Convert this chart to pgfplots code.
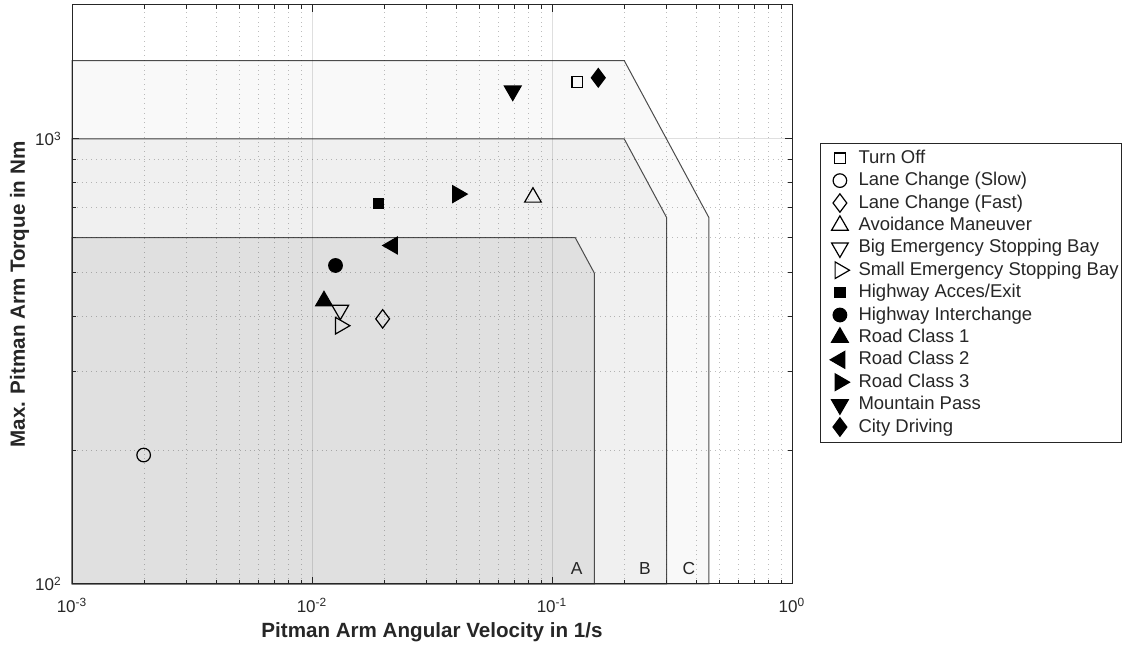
\documentclass[border=0pt]{standalone}
\usepackage{fontspec}
\setmainfont{Liberation Sans}
\usepackage{pgfplots}
\pgfplotsset{compat=1.18}
\definecolor{cA}{gray}{0.88}
\definecolor{cB}{gray}{0.94}
\definecolor{cC}{gray}{0.975}
\definecolor{ax}{gray}{0.15}
\begin{document}
\begin{tikzpicture}
\path (0,0) rectangle (562pt,322pt);
\begin{axis}[
 set layers,
 at={(36pt,30pt)}, anchor=south west,
 scale only axis, width=360pt, height=289.5pt,
 xmode=log, ymode=log,
 xmin=0.001, xmax=1, ymin=100, ymax=2000,
 xtick={0.001,0.01,0.1,1},
 xticklabels={10\textsuperscript{-3},10\textsuperscript{-2},10\textsuperscript{-1},10\textsuperscript{0}},
 ytick={100,1000},
 yticklabels={10\textsuperscript{2},10\textsuperscript{3}},
 minor xtick={0.002,0.003,0.004,0.005,0.006,0.007,0.008,0.009,0.02,0.03,0.04,0.05,0.06,0.07,0.08,0.09,0.2,0.3,0.4,0.5,0.6,0.7,0.8,0.9},
 minor ytick={200,300,400,500,600,700,800,900,2000},
 grid=both,
 major grid style={draw=ax, draw opacity=0.15, line width=0.5pt},
 minor grid style={draw=ax, draw opacity=0.3, dotted, line width=0.5pt},
 axis line style={draw=ax, line width=0.5pt},
 tick style={draw=ax, line width=0.5pt},
 major tick length=3.5pt, minor tick length=2pt,
 tick align=inside,
 ticklabel style={font=\fontsize{8.5}{10}\selectfont, text=ax},
 xticklabel style={anchor=base, yshift=-14.3pt},
 yticklabel style={anchor=east, xshift=-1.6pt},
 label style={font=\bfseries\fontsize{10.3}{12}\selectfont, text=ax},
 xlabel={Pitman Arm Angular Velocity in 1/s},
 ylabel={Max. Pitman Arm Torque in Nm},
 xlabel style={at={(axis description cs:0.5,-0.09326)}, anchor=base},
 ylabel style={at={(axis description cs:-0.0653,0.5)}, anchor=base},
 legend style={at={(axis description cs:1.03889,0.7625)}, anchor=north west,
   draw=ax, line width=0.5pt, fill=white, inner xsep=1.5pt, inner ysep=2pt,
   font=\fontsize{9.25}{11}\selectfont, text=ax,
   nodes={inner xsep=0pt, inner ysep=1.1pt, text height=7pt, text depth=2pt},
   cells={anchor=west}},
 legend cell align=left,
 legend image code/.code={\path[draw=none,fill=none] (0pt,-1pt) rectangle (17.5pt,1pt);
   \draw[mark repeat=2,mark phase=2,#1] plot coordinates {(0pt,0pt) (8.2pt,0pt) (16.4pt,0pt)};},
]
% regions
\addplot[forget plot, on layer=axis background, draw=black!70, line width=0.5pt, fill=cC]
  coordinates {(0.001,100) (0.001,1500) (0.2,1500) (0.45,666.7) (0.45,100)} -- cycle;
\addplot[forget plot, on layer=axis background, draw=black!70, line width=0.5pt, fill=cB]
  coordinates {(0.001,100) (0.001,1000) (0.2,1000) (0.3,666.7) (0.3,100)} -- cycle;
\addplot[forget plot, on layer=axis background, draw=black!70, line width=0.5pt, fill=cA]
  coordinates {(0.001,100) (0.001,600) (0.125,600) (0.15,500) (0.15,100)} -- cycle;
\node[anchor=base, text=ax, font=\fontsize{8.7}{10}\selectfont] at (axis cs:0.1267,105.3) {A};
\node[anchor=base, text=ax, font=\fontsize{8.7}{10}\selectfont] at (axis cs:0.2441,105.3) {B};
\node[anchor=base, text=ax, font=\fontsize{8.7}{10}\selectfont] at (axis cs:0.3723,105.3) {C};
% data
\addplot[only marks, black, line width=0.6pt, mark=square, mark size=2.6pt] coordinates {(0.1274,1342)};
\addlegendentry{Turn Off}
\addplot[only marks, black, line width=0.6pt, mark=o, mark size=3.4pt] coordinates {(0.001989,194.9)};
\addlegendentry{Lane Change (Slow)}
\addplot[only marks, black, line width=0.6pt, mark=diamond, mark size=4.6pt] coordinates {(0.01970,394.2)};
\addlegendentry{Lane Change (Fast)}
\addplot[only marks, black, line width=0.6pt, mark=triangle, mark size=4.8pt] coordinates {(0.08330,739.4)};
\addlegendentry{Avoidance Maneuver}
\addplot[only marks, black, line width=0.6pt, mark=triangle, mark size=4.8pt, mark options={rotate=180}] coordinates {(0.01312,412.5)};
\addlegendentry{Big Emergency Stopping Bay}
\addplot[only marks, black, line width=0.6pt, mark=triangle, mark size=4.8pt, mark options={rotate=-90}] coordinates {(0.01312,380.6)};
\addlegendentry{Small Emergency Stopping Bay}
\addplot[only marks, black, line width=0.6pt, mark=square*, mark size=2.6pt] coordinates {(0.01896,716.8)};
\addlegendentry{Highway Acces/Exit}
\addplot[only marks, black, line width=0.6pt, mark=*, mark size=3.4pt] coordinates {(0.01253,519.6)};
\addlegendentry{Highway Interchange}
\addplot[only marks, black, line width=0.6pt, mark=triangle*, mark size=4.8pt] coordinates {(0.01122,432.3)};
\addlegendentry{Road Class 1}
\addplot[only marks, black, line width=0.6pt, mark=triangle*, mark size=4.8pt, mark options={rotate=90}] coordinates {(0.02165,576.3)};
\addlegendentry{Road Class 2}
\addplot[only marks, black, line width=0.6pt, mark=triangle*, mark size=4.8pt, mark options={rotate=-90}] coordinates {(0.04040,751.8)};
\addlegendentry{Road Class 3}
\addplot[only marks, black, line width=0.6pt, mark=triangle*, mark size=4.8pt, mark options={rotate=180}] coordinates {(0.06862,1282.6)};
\addlegendentry{Mountain Pass}
\addplot[only marks, black, line width=0.6pt, mark=diamond*, mark size=4.6pt] coordinates {(0.1559,1372)};
\addlegendentry{City Driving}
\end{axis}
\end{tikzpicture}
\end{document}
